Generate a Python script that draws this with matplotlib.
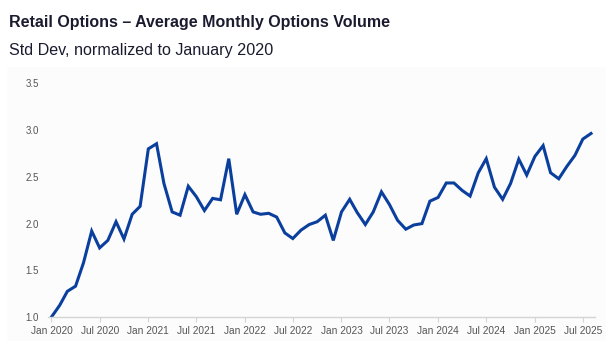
# plot.py
# Retail options - average monthly options volume, std dev normalised to Jan 2020.

import pandas as pd
import matplotlib.pyplot as plt
import matplotlib.dates as mdates
from matplotlib.patches import Rectangle

TITLE = "Retail Options \u2013 Average Monthly Options Volume"
SUBTITLE = "Std Dev, normalized to January 2020"

START_MONTH = "2020-01"
END_MONTH = "2025-08"

# one value per month, Jan 2020 .. Aug 2025
vol_2020 = [1.00, 1.125, 1.275, 1.33, 1.58, 1.92, 1.74, 1.82, 2.02, 1.835, 2.10, 2.185]
vol_2021 = [2.80, 2.855, 2.43, 2.125, 2.09, 2.40, 2.29, 2.14, 2.27, 2.255, 2.695, 2.10]
vol_2022 = [2.31, 2.125, 2.10, 2.11, 2.07, 1.90, 1.84, 1.93, 1.99, 2.02, 2.09, 1.82]
vol_2023 = [2.125, 2.26, 2.12, 1.99, 2.125, 2.34, 2.205, 2.035, 1.94, 1.985, 2.00, 2.24]
vol_2024 = [2.28, 2.435, 2.435, 2.355, 2.295, 2.545, 2.695, 2.39, 2.26, 2.43, 2.69, 2.52]
vol_2025 = [2.72, 2.835, 2.545, 2.48, 2.61, 2.73, 2.905, 2.965]

Y_TICKS = [1.0, 1.5, 2.0, 2.5, 3.0, 3.5]

LINE_COLOR = "#0b3f9e"
TEXT_COLOR = "#1b1b2f"
TICK_COLOR = "#555555"
AXIS_COLOR = "#d4d4d4"
PANEL_COLOR = "#fcfcfc"


def main():
    values = vol_2020 + vol_2021 + vol_2022 + vol_2023 + vol_2024 + vol_2025
    months = pd.date_range(START_MONTH, END_MONTH, freq="MS")

    plt.rcParams["font.family"] = ["Liberation Sans", "DejaVu Sans"]

    W, H = 612, 345
    fig = plt.figure(figsize=(W / 100, H / 100), dpi=100)
    fig.patch.set_facecolor("white")

    # faint panel behind the chart area (pixels: x 7..606, y 67..341)
    panel = Rectangle((7 / W, 4 / H), 599 / W, 274 / H, transform=fig.transFigure,
                      facecolor=PANEL_COLOR, edgecolor="none", zorder=-10)
    fig.patches.append(panel)

    fig.text(9 / W, 1 - 27 / H, TITLE, fontsize=11.5, fontweight="bold", color=TEXT_COLOR)
    fig.text(9 / W, 1 - 55 / H, SUBTITLE, fontsize=11.6, color=TEXT_COLOR)

    ax = fig.add_axes([47.5 / W, 1 - 317 / H, 547.5 / W, 233.5 / H])
    ax.set_zorder(5)
    ax.set_facecolor("none")
    ax.plot(months, values, color=LINE_COLOR, lw=2.2, solid_joinstyle="miter")

    ax.set_ylim(1.0, 3.5)
    ax.set_yticks(Y_TICKS)
    ax.set_yticklabels([f"{t:.1f}" for t in Y_TICKS])
    ax.set_xlim(months[0] - pd.Timedelta(days=15), months[-1] + pd.Timedelta(days=15))
    ax.xaxis.set_major_locator(mdates.MonthLocator(bymonth=(1, 7)))
    ax.xaxis.set_major_formatter(mdates.DateFormatter("%b %Y"))

    for side in ("top", "right", "left"):
        ax.spines[side].set_visible(False)
    ax.spines["bottom"].set_color(AXIS_COLOR)
    ax.spines["bottom"].set_linewidth(1.0)

    ax.tick_params(axis="y", length=0, pad=6, labelsize=7, labelcolor=TICK_COLOR)
    ax.tick_params(axis="x", length=3.5, width=0.8, color=AXIS_COLOR, pad=3,
                   labelsize=7.3, labelcolor=TICK_COLOR)

    fig.savefig("out.png", dpi=100)


if __name__ == "__main__":
    main()
